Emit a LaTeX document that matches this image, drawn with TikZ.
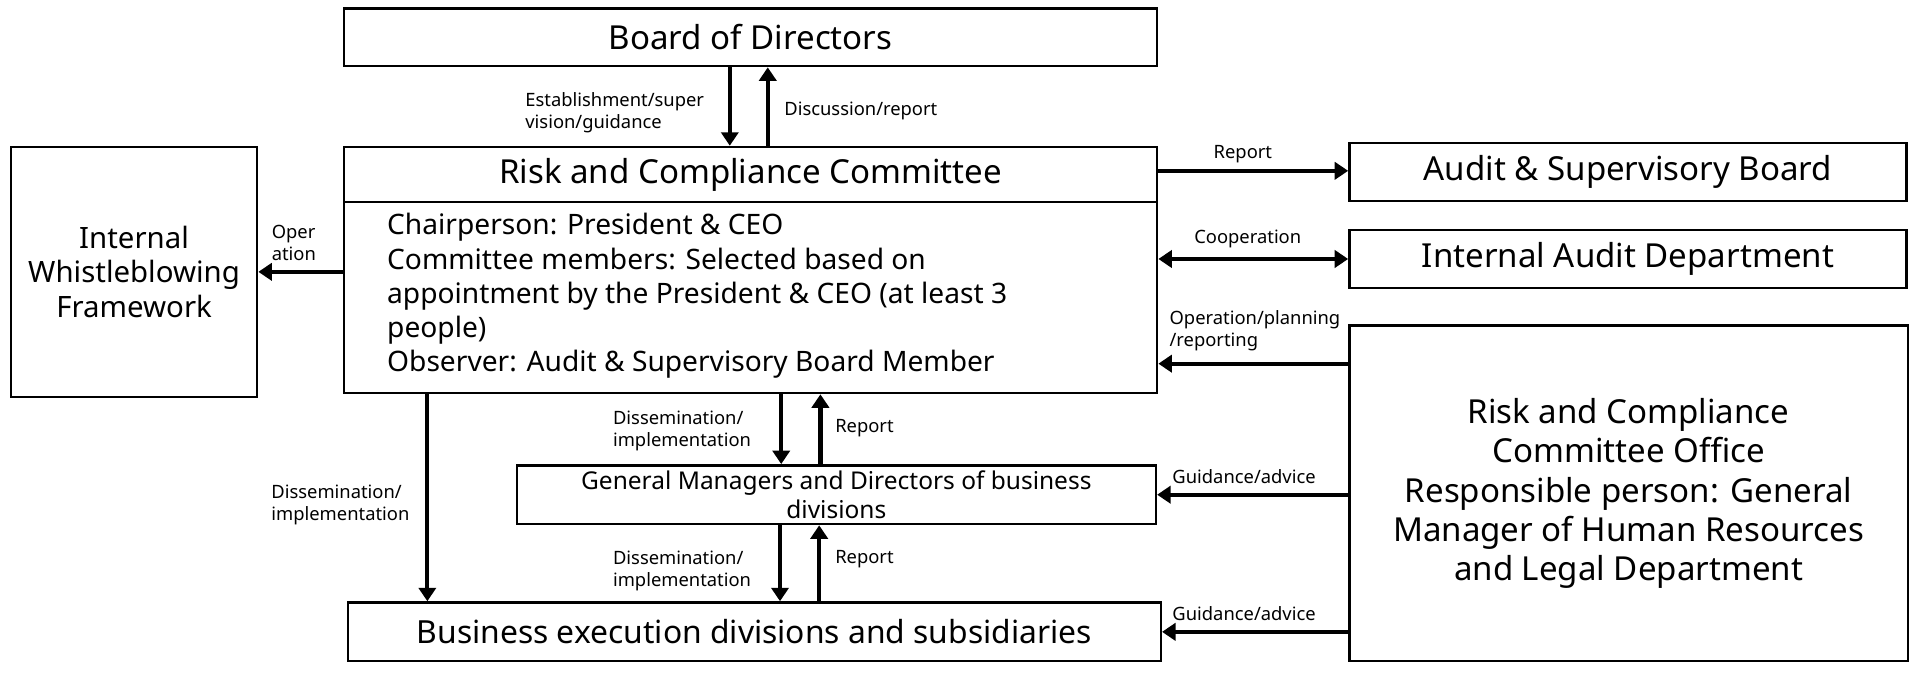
\documentclass[tikz,border=0pt]{standalone}
\usepackage{fontspec}
\setmainfont{Noto Sans}
\usetikzlibrary{arrows.meta}
\begin{document}
\begin{tikzpicture}[x=1pt,y=-1pt,
  box/.style={draw,line width=2pt,inner sep=0pt,align=center},
  arr/.style={line width=3.5pt,-{Triangle[length=11pt,width=14pt]}},
  darr/.style={line width=3.5pt,{Triangle[length=11pt,width=14pt]}-{Triangle[length=11pt,width=14pt]}},
  lbl/.style={font=\fontsize{15}{18}\selectfont,align=left,inner sep=0pt}]
\useasboundingbox (0,0) rectangle (1568,555);
\node[box,minimum width=664pt,minimum height=47pt,font=\fontsize{27}{32}\selectfont] (board) at (613,30.5) {Board of Directors};
\node[box,minimum width=664pt,minimum height=45pt,font=\fontsize{27}{32}\selectfont\bfseries] (head) at (613,142.5) {Risk and Compliance Committee};
\node[box,minimum width=664pt,minimum height=156pt] (body) at (613,243) {};
\node[anchor=north west,align=left,inner sep=0pt,font=\fontsize{23}{28}\selectfont] (bodytxt) at (316,174) {Chairperson: President \& CEO\\Committee members: Selected based on\\appointment by the President \& CEO (at least 3\\people)\\Observer: Audit \& Supervisory Board Member};
\node[box,minimum width=201pt,minimum height=204pt,font=\fontsize{24}{28}\selectfont] (iwf) at (109.5,222) {Internal\\Whistleblowing\\Framework};
\node[box,minimum width=455pt,minimum height=47pt,font=\fontsize{27}{32}\selectfont] (audit) at (1329.5,140.5) {Audit \& Supervisory Board};
\node[box,minimum width=455pt,minimum height=47pt,font=\fontsize{27}{32}\selectfont] (ia) at (1329.5,211.5) {Internal Audit Department};
\node[box,minimum width=456pt,minimum height=274pt,font=\fontsize{27}{32}\selectfont] (office) at (1330,403) {\textbf{Risk and Compliance}\\\textbf{Committee Office}\\Responsible person: General\\Manager of Human Resources\\and Legal Department};
\node[box,minimum width=522pt,minimum height=48pt,font=\fontsize{20}{23}\selectfont] (gm) at (683,404) {General Managers and Directors of business\\divisions};
\node[box,minimum width=664pt,minimum height=48pt,font=\fontsize{26}{30}\selectfont] (bus) at (616,516) {Business execution divisions and subsidiaries};
% arrows
\draw[arr] ([xshift=-17pt]board.south) -- ([xshift=-17pt]head.north);
\draw[arr] ([xshift=14pt]head.north) -- ([xshift=14pt]board.south);
\draw[arr] ([yshift=3pt]head.east) -- ([yshift=3pt]head.east -| audit.west);
\draw[darr] (body.east |- ia.west) -- (ia.west);
\draw[arr] ([yshift=106pt]office.west) -- ([yshift=106pt]office.west -| body.east);
\draw[arr] (iwf.east -| body.west) -- (iwf.east);
\draw[arr] ([xshift=-264pt]body.south) -- ([xshift=-264pt]body.south |- bus.north);
\draw[arr] ([xshift=25pt]body.south) -- ([xshift=25pt]body.south |- gm.north);
\draw[arr] ([xshift=57pt]body.south |- gm.north) -- ([xshift=57pt]body.south);
\draw[arr] ([xshift=-46pt]gm.south) -- ([xshift=-46pt]gm.south |- bus.north);
\draw[arr] ([xshift=-14pt]gm.south |- bus.north) -- ([xshift=-14pt]gm.south);
\draw[arr] (office.west |- gm.east) -- (gm.east);
\draw[arr] (office.west |- bus.east) -- (bus.east);
% labels
\node[lbl] (l1) at (502,92) {Establishment/super\\vision/guidance};
\node[lbl] (l2) at (703,91) {Discussion/report};
\node[lbl] (l3) at (1015,126) {Report};
\node[lbl] (l4) at (1019,195) {Cooperation};
\node[lbl,anchor=west] (l5) at (955,270) {Operation/planning\\/reporting};
\node[lbl] (l6) at (240,198) {Oper\\ation};
\node[lbl] (l7) at (278,412) {Dissemination/\\implementation};
\node[lbl] (l8) at (557,352) {Dissemination/\\implementation};
\node[lbl] (l9) at (706,350) {Report};
\node[lbl] (l10) at (557,466) {Dissemination/\\implementation};
\node[lbl] (l11) at (706,457) {Report};
\node[lbl] (l12) at (1016,389) {Guidance/advice};
\node[lbl] (l13) at (1016,501) {Guidance/advice};
\end{tikzpicture}
\end{document}
